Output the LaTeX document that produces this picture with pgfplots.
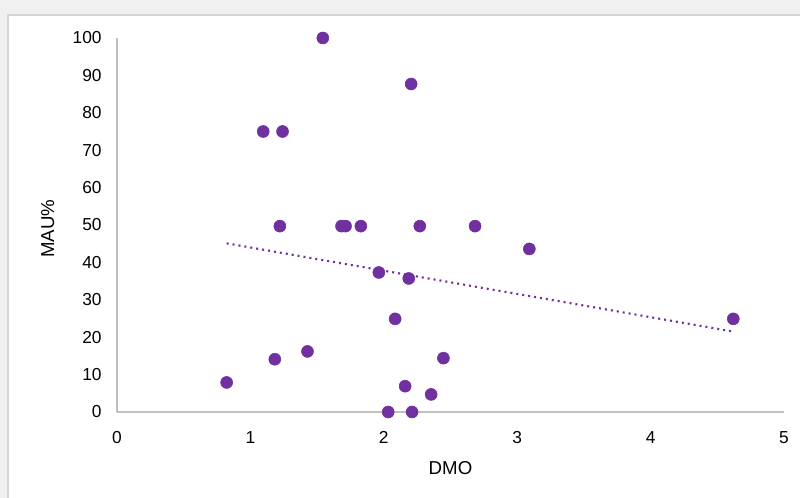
\documentclass[border=0pt]{standalone}
\usepackage{pgfplots}
\pgfplotsset{compat=1.18}
\usepackage{fontspec}
\setmainfont{Liberation Sans}
\definecolor{mypurple}{HTML}{7030A0}
\definecolor{axgray}{HTML}{C0C0C0}
\definecolor{bggray}{HTML}{F0F0F0}
\definecolor{framegray}{HTML}{D6D6D6}
\begin{document}
\begin{tikzpicture}
\fill[bggray] (-87.75pt,-64.5pt) rectangle (512.25pt,309pt);
\useasboundingbox (-87.75pt,-64.5pt) rectangle (512.25pt,309pt);
\filldraw[fill=white,draw=framegray,line width=1pt] (-81.75pt,-70pt) rectangle (520pt,297.75pt);
\begin{axis}[
  at={(0pt,0pt)}, anchor=south west,
  scale only axis, width=500.25pt, height=280.5pt,
  xmin=0, xmax=5, ymin=0, ymax=100,
  axis x line*=bottom, axis y line*=left,
  axis line style={-, draw=axgray, line width=0.8pt},
  xtick={0,1,2,3,4,5}, ytick={0,10,...,100},
  major tick length=0pt,
  /pgf/number format/assume math mode=true,
  tick label style={font=\fontsize{13}{15}\selectfont, black},
  yticklabel style={xshift=-8pt},
  xticklabel style={yshift=-11pt},
  xlabel={DMO}, ylabel={MAU\%},
  label style={font=\fontsize{14}{16}\selectfont},
  xlabel style={at={(axis description cs:0.5,0)}, anchor=center, yshift=-42pt},
  ylabel style={at={(axis description cs:-0.104,0.49)}, anchor=center},
  clip=false,
]
\addplot[only marks, mark=*, mark size=4.5pt, mark options={fill=mypurple, draw=mypurple}] coordinates {
(0.822,7.9) (1.096,75) (1.241,75) (1.221,49.7) (1.183,14.1) (1.428,16.2)
(1.543,100) (1.683,49.7) (1.713,49.7) (1.828,49.7) (1.963,37.3) (2.033,0)
(2.085,24.9) (2.160,6.9) (2.187,35.7) (2.205,87.7) (2.212,0) (2.270,49.7)
(2.355,4.7) (2.447,14.4) (2.684,49.7) (3.091,43.6) (4.620,24.9)
};
\addplot[mypurple, line width=1.6pt, dash pattern=on 1.5pt off 3pt] coordinates {
(0.822,45.1) (4.62,21.5)
};
\end{axis}
\end{tikzpicture}
\end{document}
